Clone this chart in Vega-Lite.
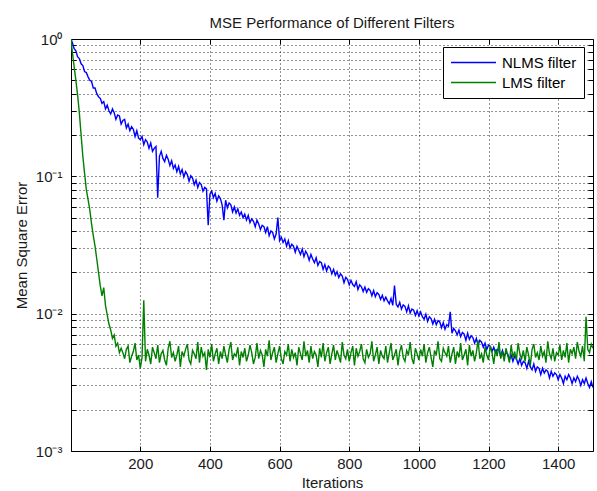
{
"$schema": "https://vega.github.io/schema/vega-lite/v6.json",
"width": 522, "height": 412,
"autosize": {"type": "none"},
"padding": {"left": 71, "top": 39, "right": 4, "bottom": 40},
"background": "white",
"config": {
 "font": "Liberation Sans",
 "view": {"stroke": "#000", "strokeWidth": 1},
 "axis": {"labelFont": "Liberation Sans", "titleFont": "Liberation Sans", "labelFontSize": 15, "titleFontSize": 15, "titleFontWeight": "normal", "labelColor": "#1a1a1a", "titleColor": "#1a1a1a", "domain": false, "tickColor": "#000", "tickSize": -5, "gridColor": "#000", "gridDash": [1, 3], "gridOpacity": 0.85}
},
"title": {"text": "MSE Performance of Different Filters", "fontSize": 15, "fontWeight": "normal", "font": "Liberation Sans", "color": "#1a1a1a", "offset": 1},
"data": {"values": [
{"Iterations":1,"NLMS filter":1.0,"LMS filter":1.0},
{"Iterations":5,"NLMS filter":0.94,"LMS filter":0.80},
{"Iterations":10,"NLMS filter":0.85,"LMS filter":0.63},
{"Iterations":15,"NLMS filter":0.82,"LMS filter":0.50},
{"Iterations":20,"NLMS filter":0.74,"LMS filter":0.39},
{"Iterations":25,"NLMS filter":0.72,"LMS filter":0.29},
{"Iterations":30,"NLMS filter":0.66,"LMS filter":0.20},
{"Iterations":35,"NLMS filter":0.64,"LMS filter":0.14},
{"Iterations":40,"NLMS filter":0.58,"LMS filter":0.105},
{"Iterations":45,"NLMS filter":0.57,"LMS filter":0.08},
{"Iterations":50,"NLMS filter":0.53,"LMS filter":0.068},
{"Iterations":55,"NLMS filter":0.50,"LMS filter":0.057},
{"Iterations":60,"NLMS filter":0.49,"LMS filter":0.045},
{"Iterations":65,"NLMS filter":0.44,"LMS filter":0.037},
{"Iterations":70,"NLMS filter":0.44,"LMS filter":0.031},
{"Iterations":75,"NLMS filter":0.40,"LMS filter":0.025},
{"Iterations":80,"NLMS filter":0.38,"LMS filter":0.020},
{"Iterations":85,"NLMS filter":0.37,"LMS filter":0.016},
{"Iterations":90,"NLMS filter":0.34,"LMS filter":0.0135},
{"Iterations":95,"NLMS filter":0.35,"LMS filter":0.0155},
{"Iterations":100,"NLMS filter":0.31,"LMS filter":0.0115},
{"Iterations":105,"NLMS filter":0.33,"LMS filter":0.0098},
{"Iterations":110,"NLMS filter":0.30,"LMS filter":0.0084},
{"Iterations":115,"NLMS filter":0.285,"LMS filter":0.0076},
{"Iterations":120,"NLMS filter":0.31,"LMS filter":0.0066},
{"Iterations":125,"NLMS filter":0.29,"LMS filter":0.0070},
{"Iterations":130,"NLMS filter":0.26,"LMS filter":0.0058},
{"Iterations":135,"NLMS filter":0.28,"LMS filter":0.0061},
{"Iterations":140,"NLMS filter":0.275,"LMS filter":0.0052},
{"Iterations":145,"NLMS filter":0.24,"LMS filter":0.0056},
{"Iterations":150,"NLMS filter":0.255,"LMS filter":0.0052},
{"Iterations":155,"NLMS filter":0.26,"LMS filter":0.0047},
{"Iterations":160,"NLMS filter":0.225,"LMS filter":0.0055},
{"Iterations":165,"NLMS filter":0.24,"LMS filter":0.0058},
{"Iterations":170,"NLMS filter":0.215,"LMS filter":0.0044},
{"Iterations":175,"NLMS filter":0.23,"LMS filter":0.0049},
{"Iterations":180,"NLMS filter":0.22,"LMS filter":0.0053},
{"Iterations":185,"NLMS filter":0.195,"LMS filter":0.0061},
{"Iterations":190,"NLMS filter":0.215,"LMS filter":0.0046},
{"Iterations":195,"NLMS filter":0.19,"LMS filter":0.0050},
{"Iterations":200,"NLMS filter":0.185,"LMS filter":0.0040},
{"Iterations":205,"NLMS filter":0.195,"LMS filter":0.0048},
{"Iterations":210,"NLMS filter":0.17,"LMS filter":0.0125},
{"Iterations":215,"NLMS filter":0.185,"LMS filter":0.0045},
{"Iterations":220,"NLMS filter":0.178,"LMS filter":0.0055},
{"Iterations":225,"NLMS filter":0.16,"LMS filter":0.0050},
{"Iterations":230,"NLMS filter":0.175,"LMS filter":0.0043},
{"Iterations":235,"NLMS filter":0.152,"LMS filter":0.0057},
{"Iterations":240,"NLMS filter":0.16,"LMS filter":0.0052},
{"Iterations":245,"NLMS filter":0.165,"LMS filter":0.0047},
{"Iterations":250,"NLMS filter":0.07,"LMS filter":0.0059},
{"Iterations":255,"NLMS filter":0.14,"LMS filter":0.0044},
{"Iterations":260,"NLMS filter":0.152,"LMS filter":0.0051},
{"Iterations":265,"NLMS filter":0.135,"LMS filter":0.0054},
{"Iterations":270,"NLMS filter":0.128,"LMS filter":0.0046},
{"Iterations":275,"NLMS filter":0.142,"LMS filter":0.0042},
{"Iterations":280,"NLMS filter":0.133,"LMS filter":0.0056},
{"Iterations":285,"NLMS filter":0.12,"LMS filter":0.0063},
{"Iterations":290,"NLMS filter":0.13,"LMS filter":0.0048},
{"Iterations":295,"NLMS filter":0.114,"LMS filter":0.0052},
{"Iterations":300,"NLMS filter":0.121,"LMS filter":0.0045},
{"Iterations":305,"NLMS filter":0.108,"LMS filter":0.0050},
{"Iterations":310,"NLMS filter":0.118,"LMS filter":0.0058},
{"Iterations":315,"NLMS filter":0.104,"LMS filter":0.0041},
{"Iterations":320,"NLMS filter":0.112,"LMS filter":0.0053},
{"Iterations":325,"NLMS filter":0.099,"LMS filter":0.0049},
{"Iterations":330,"NLMS filter":0.108,"LMS filter":0.0055},
{"Iterations":335,"NLMS filter":0.103,"LMS filter":0.0060},
{"Iterations":340,"NLMS filter":0.092,"LMS filter":0.0046},
{"Iterations":345,"NLMS filter":0.101,"LMS filter":0.0043},
{"Iterations":350,"NLMS filter":0.097,"LMS filter":0.0054},
{"Iterations":355,"NLMS filter":0.087,"LMS filter":0.0051},
{"Iterations":360,"NLMS filter":0.094,"LMS filter":0.0047},
{"Iterations":365,"NLMS filter":0.083,"LMS filter":0.0062},
{"Iterations":370,"NLMS filter":0.09,"LMS filter":0.0044},
{"Iterations":375,"NLMS filter":0.087,"LMS filter":0.0057},
{"Iterations":380,"NLMS filter":0.078,"LMS filter":0.0049},
{"Iterations":385,"NLMS filter":0.083,"LMS filter":0.0052},
{"Iterations":390,"NLMS filter":0.081,"LMS filter":0.0039},
{"Iterations":395,"NLMS filter":0.044,"LMS filter":0.0055},
{"Iterations":400,"NLMS filter":0.074,"LMS filter":0.0048},
{"Iterations":405,"NLMS filter":0.078,"LMS filter":0.0060},
{"Iterations":410,"NLMS filter":0.07,"LMS filter":0.0045},
{"Iterations":415,"NLMS filter":0.075,"LMS filter":0.0051},
{"Iterations":420,"NLMS filter":0.066,"LMS filter":0.0056},
{"Iterations":425,"NLMS filter":0.072,"LMS filter":0.0043},
{"Iterations":430,"NLMS filter":0.069,"LMS filter":0.0053},
{"Iterations":435,"NLMS filter":0.062,"LMS filter":0.0047},
{"Iterations":440,"NLMS filter":0.048,"LMS filter":0.0058},
{"Iterations":445,"NLMS filter":0.067,"LMS filter":0.0050},
{"Iterations":450,"NLMS filter":0.059,"LMS filter":0.0044},
{"Iterations":455,"NLMS filter":0.064,"LMS filter":0.0055},
{"Iterations":460,"NLMS filter":0.062,"LMS filter":0.0062},
{"Iterations":465,"NLMS filter":0.055,"LMS filter":0.0046},
{"Iterations":470,"NLMS filter":0.06,"LMS filter":0.0051},
{"Iterations":475,"NLMS filter":0.054,"LMS filter":0.0049},
{"Iterations":480,"NLMS filter":0.058,"LMS filter":0.0057},
{"Iterations":485,"NLMS filter":0.052,"LMS filter":0.0042},
{"Iterations":490,"NLMS filter":0.055,"LMS filter":0.0053},
{"Iterations":495,"NLMS filter":0.05,"LMS filter":0.0048},
{"Iterations":500,"NLMS filter":0.053,"LMS filter":0.0056},
{"Iterations":505,"NLMS filter":0.048,"LMS filter":0.0045},
{"Iterations":510,"NLMS filter":0.052,"LMS filter":0.0050},
{"Iterations":515,"NLMS filter":0.046,"LMS filter":0.0059},
{"Iterations":520,"NLMS filter":0.049,"LMS filter":0.0052},
{"Iterations":525,"NLMS filter":0.047,"LMS filter":0.0043},
{"Iterations":530,"NLMS filter":0.043,"LMS filter":0.0048},
{"Iterations":535,"NLMS filter":0.048,"LMS filter":0.0061},
{"Iterations":540,"NLMS filter":0.045,"LMS filter":0.0047},
{"Iterations":545,"NLMS filter":0.041,"LMS filter":0.0054},
{"Iterations":550,"NLMS filter":0.044,"LMS filter":0.0050},
{"Iterations":555,"NLMS filter":0.043,"LMS filter":0.0041},
{"Iterations":560,"NLMS filter":0.039,"LMS filter":0.0055},
{"Iterations":565,"NLMS filter":0.043,"LMS filter":0.0049},
{"Iterations":570,"NLMS filter":0.037,"LMS filter":0.0064},
{"Iterations":575,"NLMS filter":0.04,"LMS filter":0.0046},
{"Iterations":580,"NLMS filter":0.039,"LMS filter":0.0052},
{"Iterations":585,"NLMS filter":0.035,"LMS filter":0.0057},
{"Iterations":590,"NLMS filter":0.038,"LMS filter":0.0044},
{"Iterations":595,"NLMS filter":0.05,"LMS filter":0.0051},
{"Iterations":600,"NLMS filter":0.034,"LMS filter":0.0058},
{"Iterations":605,"NLMS filter":0.036,"LMS filter":0.0047},
{"Iterations":610,"NLMS filter":0.033,"LMS filter":0.0043},
{"Iterations":615,"NLMS filter":0.035,"LMS filter":0.0053},
{"Iterations":620,"NLMS filter":0.031,"LMS filter":0.0050},
{"Iterations":625,"NLMS filter":0.034,"LMS filter":0.0060},
{"Iterations":630,"NLMS filter":0.03,"LMS filter":0.0045},
{"Iterations":635,"NLMS filter":0.032,"LMS filter":0.0055},
{"Iterations":640,"NLMS filter":0.031,"LMS filter":0.0048},
{"Iterations":645,"NLMS filter":0.028,"LMS filter":0.0052},
{"Iterations":650,"NLMS filter":0.031,"LMS filter":0.0042},
{"Iterations":655,"NLMS filter":0.029,"LMS filter":0.0057},
{"Iterations":660,"NLMS filter":0.027,"LMS filter":0.0051},
{"Iterations":665,"NLMS filter":0.0295,"LMS filter":0.0046},
{"Iterations":670,"NLMS filter":0.026,"LMS filter":0.0063},
{"Iterations":675,"NLMS filter":0.0285,"LMS filter":0.0049},
{"Iterations":680,"NLMS filter":0.027,"LMS filter":0.0054},
{"Iterations":685,"NLMS filter":0.0245,"LMS filter":0.0044},
{"Iterations":690,"NLMS filter":0.027,"LMS filter":0.0058},
{"Iterations":695,"NLMS filter":0.025,"LMS filter":0.0047},
{"Iterations":700,"NLMS filter":0.0235,"LMS filter":0.0053},
{"Iterations":705,"NLMS filter":0.0255,"LMS filter":0.0050},
{"Iterations":710,"NLMS filter":0.0225,"LMS filter":0.0041},
{"Iterations":715,"NLMS filter":0.024,"LMS filter":0.0056},
{"Iterations":720,"NLMS filter":0.0235,"LMS filter":0.0048},
{"Iterations":725,"NLMS filter":0.021,"LMS filter":0.0061},
{"Iterations":730,"NLMS filter":0.0228,"LMS filter":0.0045},
{"Iterations":735,"NLMS filter":0.0205,"LMS filter":0.0052},
{"Iterations":740,"NLMS filter":0.0222,"LMS filter":0.0057},
{"Iterations":745,"NLMS filter":0.0215,"LMS filter":0.0043},
{"Iterations":750,"NLMS filter":0.0195,"LMS filter":0.0051},
{"Iterations":755,"NLMS filter":0.021,"LMS filter":0.0059},
{"Iterations":760,"NLMS filter":0.019,"LMS filter":0.0046},
{"Iterations":765,"NLMS filter":0.0202,"LMS filter":0.0054},
{"Iterations":770,"NLMS filter":0.0183,"LMS filter":0.0049},
{"Iterations":775,"NLMS filter":0.0195,"LMS filter":0.0044},
{"Iterations":780,"NLMS filter":0.0188,"LMS filter":0.0062},
{"Iterations":785,"NLMS filter":0.0168,"LMS filter":0.0050},
{"Iterations":790,"NLMS filter":0.0184,"LMS filter":0.0047},
{"Iterations":795,"NLMS filter":0.0178,"LMS filter":0.0055},
{"Iterations":800,"NLMS filter":0.0162,"LMS filter":0.0045},
{"Iterations":805,"NLMS filter":0.0175,"LMS filter":0.0052},
{"Iterations":810,"NLMS filter":0.0163,"LMS filter":0.0058},
{"Iterations":815,"NLMS filter":0.0158,"LMS filter":0.0042},
{"Iterations":820,"NLMS filter":0.0171,"LMS filter":0.0056},
{"Iterations":825,"NLMS filter":0.015,"LMS filter":0.0049},
{"Iterations":830,"NLMS filter":0.0162,"LMS filter":0.0053},
{"Iterations":835,"NLMS filter":0.0157,"LMS filter":0.0060},
{"Iterations":840,"NLMS filter":0.0145,"LMS filter":0.0047},
{"Iterations":845,"NLMS filter":0.0156,"LMS filter":0.0044},
{"Iterations":850,"NLMS filter":0.0143,"LMS filter":0.0055},
{"Iterations":855,"NLMS filter":0.0152,"LMS filter":0.0048},
{"Iterations":860,"NLMS filter":0.0148,"LMS filter":0.0051},
{"Iterations":865,"NLMS filter":0.0135,"LMS filter":0.0063},
{"Iterations":870,"NLMS filter":0.0147,"LMS filter":0.0045},
{"Iterations":875,"NLMS filter":0.0133,"LMS filter":0.0050},
{"Iterations":880,"NLMS filter":0.0142,"LMS filter":0.0057},
{"Iterations":885,"NLMS filter":0.0138,"LMS filter":0.0043},
{"Iterations":890,"NLMS filter":0.0127,"LMS filter":0.0054},
{"Iterations":895,"NLMS filter":0.0136,"LMS filter":0.0049},
{"Iterations":900,"NLMS filter":0.0124,"LMS filter":0.0047},
{"Iterations":905,"NLMS filter":0.0132,"LMS filter":0.0058},
{"Iterations":910,"NLMS filter":0.0124,"LMS filter":0.0044},
{"Iterations":915,"NLMS filter":0.0118,"LMS filter":0.0052},
{"Iterations":920,"NLMS filter":0.0129,"LMS filter":0.0061},
{"Iterations":925,"NLMS filter":0.0115,"LMS filter":0.0046},
{"Iterations":930,"NLMS filter":0.016,"LMS filter":0.0050},
{"Iterations":935,"NLMS filter":0.0117,"LMS filter":0.0055},
{"Iterations":940,"NLMS filter":0.0112,"LMS filter":0.0042},
{"Iterations":945,"NLMS filter":0.0121,"LMS filter":0.0053},
{"Iterations":950,"NLMS filter":0.0108,"LMS filter":0.0059},
{"Iterations":955,"NLMS filter":0.0116,"LMS filter":0.0048},
{"Iterations":960,"NLMS filter":0.0113,"LMS filter":0.0045},
{"Iterations":965,"NLMS filter":0.0103,"LMS filter":0.0054},
{"Iterations":970,"NLMS filter":0.0114,"LMS filter":0.0050},
{"Iterations":975,"NLMS filter":0.0101,"LMS filter":0.0062},
{"Iterations":980,"NLMS filter":0.0108,"LMS filter":0.0047},
{"Iterations":985,"NLMS filter":0.0106,"LMS filter":0.0043},
{"Iterations":990,"NLMS filter":0.0097,"LMS filter":0.0056},
{"Iterations":995,"NLMS filter":0.0105,"LMS filter":0.0051},
{"Iterations":1000,"NLMS filter":0.0096,"LMS filter":0.0046},
{"Iterations":1005,"NLMS filter":0.0103,"LMS filter":0.0055},
{"Iterations":1010,"NLMS filter":0.0095,"LMS filter":0.0049},
{"Iterations":1015,"NLMS filter":0.0091,"LMS filter":0.0060},
{"Iterations":1020,"NLMS filter":0.0099,"LMS filter":0.0044},
{"Iterations":1025,"NLMS filter":0.0088,"LMS filter":0.0052},
{"Iterations":1030,"NLMS filter":0.0095,"LMS filter":0.0057},
{"Iterations":1035,"NLMS filter":0.0092,"LMS filter":0.0048},
{"Iterations":1040,"NLMS filter":0.0084,"LMS filter":0.0041},
{"Iterations":1045,"NLMS filter":0.0091,"LMS filter":0.0054},
{"Iterations":1050,"NLMS filter":0.0083,"LMS filter":0.0050},
{"Iterations":1055,"NLMS filter":0.0089,"LMS filter":0.0063},
{"Iterations":1060,"NLMS filter":0.0087,"LMS filter":0.0047},
{"Iterations":1065,"NLMS filter":0.0079,"LMS filter":0.0045},
{"Iterations":1070,"NLMS filter":0.0086,"LMS filter":0.0056},
{"Iterations":1075,"NLMS filter":0.0077,"LMS filter":0.0052},
{"Iterations":1080,"NLMS filter":0.0083,"LMS filter":0.0049},
{"Iterations":1085,"NLMS filter":0.0081,"LMS filter":0.0058},
{"Iterations":1090,"NLMS filter":0.0103,"LMS filter":0.0044},
{"Iterations":1095,"NLMS filter":0.0072,"LMS filter":0.0051},
{"Iterations":1100,"NLMS filter":0.0078,"LMS filter":0.0057},
{"Iterations":1105,"NLMS filter":0.0075,"LMS filter":0.0043},
{"Iterations":1110,"NLMS filter":0.0070,"LMS filter":0.0053},
{"Iterations":1115,"NLMS filter":0.0076,"LMS filter":0.0048},
{"Iterations":1120,"NLMS filter":0.0068,"LMS filter":0.0061},
{"Iterations":1125,"NLMS filter":0.0073,"LMS filter":0.0046},
{"Iterations":1130,"NLMS filter":0.0071,"LMS filter":0.0050},
{"Iterations":1135,"NLMS filter":0.0064,"LMS filter":0.0055},
{"Iterations":1140,"NLMS filter":0.0072,"LMS filter":0.0042},
{"Iterations":1145,"NLMS filter":0.0065,"LMS filter":0.0059},
{"Iterations":1150,"NLMS filter":0.0069,"LMS filter":0.0049},
{"Iterations":1155,"NLMS filter":0.0067,"LMS filter":0.0054},
{"Iterations":1160,"NLMS filter":0.0061,"LMS filter":0.0045},
{"Iterations":1165,"NLMS filter":0.0066,"LMS filter":0.0052},
{"Iterations":1170,"NLMS filter":0.0059,"LMS filter":0.0064},
{"Iterations":1175,"NLMS filter":0.0064,"LMS filter":0.0047},
{"Iterations":1180,"NLMS filter":0.0062,"LMS filter":0.0051},
{"Iterations":1185,"NLMS filter":0.0057,"LMS filter":0.0044},
{"Iterations":1190,"NLMS filter":0.0061,"LMS filter":0.0057},
{"Iterations":1195,"NLMS filter":0.0055,"LMS filter":0.0050},
{"Iterations":1200,"NLMS filter":0.0059,"LMS filter":0.0046},
{"Iterations":1205,"NLMS filter":0.0058,"LMS filter":0.0058},
{"Iterations":1210,"NLMS filter":0.0053,"LMS filter":0.0052},
{"Iterations":1215,"NLMS filter":0.0057,"LMS filter":0.0043},
{"Iterations":1220,"NLMS filter":0.0052,"LMS filter":0.0055},
{"Iterations":1225,"NLMS filter":0.0055,"LMS filter":0.0049},
{"Iterations":1230,"NLMS filter":0.0054,"LMS filter":0.0062},
{"Iterations":1235,"NLMS filter":0.0049,"LMS filter":0.0047},
{"Iterations":1240,"NLMS filter":0.0054,"LMS filter":0.0053},
{"Iterations":1245,"NLMS filter":0.0049,"LMS filter":0.0045},
{"Iterations":1250,"NLMS filter":0.0052,"LMS filter":0.0056},
{"Iterations":1255,"NLMS filter":0.0051,"LMS filter":0.0050},
{"Iterations":1260,"NLMS filter":0.0046,"LMS filter":0.0044},
{"Iterations":1265,"NLMS filter":0.0050,"LMS filter":0.0059},
{"Iterations":1270,"NLMS filter":0.0045,"LMS filter":0.0048},
{"Iterations":1275,"NLMS filter":0.0049,"LMS filter":0.0053},
{"Iterations":1280,"NLMS filter":0.0047,"LMS filter":0.0046},
{"Iterations":1285,"NLMS filter":0.0043,"LMS filter":0.0061},
{"Iterations":1290,"NLMS filter":0.0047,"LMS filter":0.0051},
{"Iterations":1295,"NLMS filter":0.0042,"LMS filter":0.0047},
{"Iterations":1300,"NLMS filter":0.0045,"LMS filter":0.0054},
{"Iterations":1305,"NLMS filter":0.0044,"LMS filter":0.0045},
{"Iterations":1310,"NLMS filter":0.0040,"LMS filter":0.0057},
{"Iterations":1315,"NLMS filter":0.0045,"LMS filter":0.0050},
{"Iterations":1320,"NLMS filter":0.0041,"LMS filter":0.0042},
{"Iterations":1325,"NLMS filter":0.0039,"LMS filter":0.0055},
{"Iterations":1330,"NLMS filter":0.0043,"LMS filter":0.0060},
{"Iterations":1335,"NLMS filter":0.0038,"LMS filter":0.0048},
{"Iterations":1340,"NLMS filter":0.0041,"LMS filter":0.0052},
{"Iterations":1345,"NLMS filter":0.0040,"LMS filter":0.0046},
{"Iterations":1350,"NLMS filter":0.0036,"LMS filter":0.0058},
{"Iterations":1355,"NLMS filter":0.0040,"LMS filter":0.0049},
{"Iterations":1360,"NLMS filter":0.0037,"LMS filter":0.0053},
{"Iterations":1365,"NLMS filter":0.0039,"LMS filter":0.0044},
{"Iterations":1370,"NLMS filter":0.0038,"LMS filter":0.0063},
{"Iterations":1375,"NLMS filter":0.0034,"LMS filter":0.0051},
{"Iterations":1380,"NLMS filter":0.0038,"LMS filter":0.0047},
{"Iterations":1385,"NLMS filter":0.0035,"LMS filter":0.0056},
{"Iterations":1390,"NLMS filter":0.0037,"LMS filter":0.0045},
{"Iterations":1395,"NLMS filter":0.0036,"LMS filter":0.0052},
{"Iterations":1400,"NLMS filter":0.0033,"LMS filter":0.0050},
{"Iterations":1405,"NLMS filter":0.0036,"LMS filter":0.0059},
{"Iterations":1410,"NLMS filter":0.0034,"LMS filter":0.0046},
{"Iterations":1415,"NLMS filter":0.0031,"LMS filter":0.0054},
{"Iterations":1420,"NLMS filter":0.0035,"LMS filter":0.0048},
{"Iterations":1425,"NLMS filter":0.0033,"LMS filter":0.0061},
{"Iterations":1430,"NLMS filter":0.0036,"LMS filter":0.0044},
{"Iterations":1435,"NLMS filter":0.0034,"LMS filter":0.0055},
{"Iterations":1440,"NLMS filter":0.0031,"LMS filter":0.0051},
{"Iterations":1445,"NLMS filter":0.0034,"LMS filter":0.0057},
{"Iterations":1450,"NLMS filter":0.0032,"LMS filter":0.0047},
{"Iterations":1455,"NLMS filter":0.0035,"LMS filter":0.0062},
{"Iterations":1460,"NLMS filter":0.0033,"LMS filter":0.0053},
{"Iterations":1465,"NLMS filter":0.0030,"LMS filter":0.0049},
{"Iterations":1470,"NLMS filter":0.0033,"LMS filter":0.0058},
{"Iterations":1475,"NLMS filter":0.0031,"LMS filter":0.0045},
{"Iterations":1480,"NLMS filter":0.0034,"LMS filter":0.0095},
{"Iterations":1485,"NLMS filter":0.0031,"LMS filter":0.0055},
{"Iterations":1490,"NLMS filter":0.0029,"LMS filter":0.0052},
{"Iterations":1495,"NLMS filter":0.0032,"LMS filter":0.0060},
{"Iterations":1500,"NLMS filter":0.0029,"LMS filter":0.0056}
]},
"transform": [{"fold": ["NLMS filter", "LMS filter"], "as": ["Filter", "MSE"]}],
"layer": [
 {
  "mark": {"type": "line", "strokeWidth": 1.4, "clip": true},
  "encoding": {
   "x": {"field": "Iterations", "type": "quantitative", "scale": {"domain": [1, 1500], "nice": false, "zero": false},
     "axis": {"orient": "bottom", "values": [200, 400, 600, 800, 1000, 1200, 1400], "format": "d", "grid": true, "title": "Iterations", "labelPadding": 10, "titlePadding": 4, "labelFlush": false}},
   "y": {"field": "MSE", "type": "quantitative", "scale": {"type": "log", "domain": [0.001, 1], "nice": false},
     "axis": {"orient": "left", "values": [0.001,0.002,0.003,0.004,0.005,0.006,0.007,0.008,0.009,0.01,0.02,0.03,0.04,0.05,0.06,0.07,0.08,0.09,0.1,0.2,0.3,0.4,0.5,0.6,0.7,0.8,0.9,1], "grid": true, "title": "Mean Square Error", "labelExpr": "datum.value == 1 ? '10⁰' : datum.value == 0.1 ? '10⁻¹' : datum.value == 0.01 ? '10⁻²' : datum.value == 0.001 ? '10⁻³' : ''", "labelPadding": 14, "titlePadding": 6, "labelOverlap": false}},
   "color": {"field": "Filter", "type": "nominal", "scale": {"domain": ["NLMS filter", "LMS filter"], "range": ["#0000ff", "#008000"]},
     "legend": {"title": null, "orient": "none", "legendX": 372, "legendY": 8, "symbolType": "M-1,0H5", "symbolSize": 225, "symbolStrokeWidth": 1.5, "labelFontSize": 15, "labelFont": "Liberation Sans", "labelColor": "#000", "labelOffset": 35, "strokeColor": "#000", "fillColor": "#fff", "padding": 7, "rowPadding": 3}}
  }
 },
 {
  "mark": {"type": "line", "opacity": 0},
  "encoding": {
   "x": {"field": "Iterations", "type": "quantitative", "scale": {"domain": [1, 1500], "nice": false, "zero": false},
     "axis": {"orient": "top", "values": [200, 400, 600, 800, 1000, 1200, 1400], "grid": false, "labels": false, "title": null}},
   "y": {"field": "MSE", "type": "quantitative", "scale": {"type": "log", "domain": [0.001, 1], "nice": false},
     "axis": {"orient": "right", "values": [0.001,0.002,0.003,0.004,0.005,0.006,0.007,0.008,0.009,0.01,0.02,0.03,0.04,0.05,0.06,0.07,0.08,0.09,0.1,0.2,0.3,0.4,0.5,0.6,0.7,0.8,0.9,1], "grid": false, "labels": false, "title": null}},
   "detail": {"field": "Filter", "type": "nominal"}
  }
 }
],
"resolve": {"axis": {"x": "independent", "y": "independent"}}
}
